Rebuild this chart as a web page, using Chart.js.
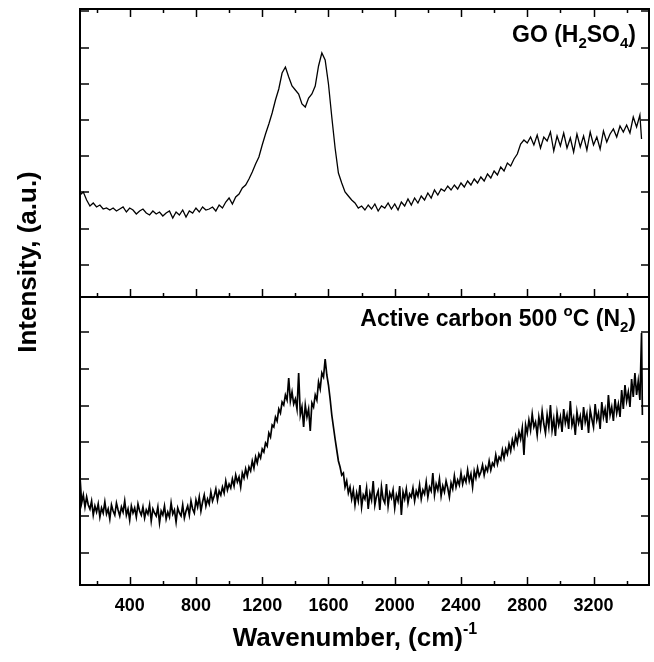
<!DOCTYPE html>
<html><head><meta charset="utf-8">
<script src="https://cdn.jsdelivr.net/npm/chart.js@4.4.1/dist/chart.umd.min.js"></script>
<style>html,body{margin:0;padding:0;background:#fff;} #wrap{width:654px;height:662px;}</style>
</head><body><div id="wrap"><canvas id="c" width="654" height="662"></canvas></div>
<script>
const xTickLabels = [400, 800, 1200, 1600, 2000, 2400, 2800, 3200];
const xMinorTicks = [200, 600, 1000, 1400, 1800, 2200, 2600, 3000, 3400];
const yTicksTop = [32, 68, 105, 141, 177, 213, 249, 286];
const yTicksBottom = [32, 69, 106, 143, 179, 216, 253];

const goWavenumber = [
100,120,140,160,180,200,220,240,260,280,
300,320,340,360,380,400,420,440,460,480,
500,520,540,560,580,600,620,640,660,680,
700,720,740,760,780,800,820,840,860,880,
900,920,940,960,980,1000,1020,1040,1060,1080,
1100,1120,1140,1160,1180,1200,1220,1240,1260,1280,
1300,1320,1340,1360,1380,1400,1420,1440,1460,1480,
1500,1520,1540,1560,1580,1600,1620,1640,1660,1680,
1700,1720,1740,1760,1780,1800,1820,1840,1860,1880,
1900,1920,1940,1960,1980,2000,2020,2040,2060,2080,
2100,2120,2140,2160,2180,2200,2220,2240,2260,2280,
2300,2320,2340,2360,2380,2400,2420,2440,2460,2480,
2500,2520,2540,2560,2580,2600,2620,2640,2660,2680,
2700,2720,2740,2760,2780,2800,2820,2840,2860,2880,
2900,2920,2940,2960,2980,3000,3020,3040,3060,3080,
3100,3120,3140,3160,3180,3200,3220,3240,3260,3280,
3300,3320,3340,3360,3380,3400,3420,3440,3460,3480,
3490];
const goIntensity = [
102,105,97,91,94,90,92,88,89,87,
89,86,88,90,85,89,87,83,86,88,
84,82,86,83,85,81,84,86,79,85,
82,87,80,86,84,89,85,90,87,88,
90,86,92,89,95,99,93,100,103,109,
112,118,125,133,140,152,163,173,184,197,
208,224,230,220,211,207,203,193,190,199,
203,211,231,244,237,213,180,149,124,114,
105,101,97,94,89,91,87,92,88,93,
86,91,89,94,88,93,87,95,91,98,
92,99,94,101,97,104,99,107,102,108,
106,111,107,112,108,114,110,116,112,118,
114,120,116,123,119,126,122,130,126,134,
131,138,143,153,157,154,160,152,162,149,
160,156,165,146,161,151,164,149,159,145,
163,150,161,147,165,152,160,148,166,155,
163,168,160,171,165,172,164,180,170,182,
158];

const acWavenumber = [
100,110,120,130,140,150,160,170,180,190,
200,210,220,230,240,250,260,270,280,290,
300,310,320,330,340,350,360,370,380,390,
400,410,420,430,440,450,460,470,480,490,
500,510,520,530,540,550,560,570,580,590,
600,610,620,630,640,650,660,670,680,690,
700,710,720,730,740,750,760,770,780,790,
800,810,820,830,840,850,860,870,880,890,
900,910,920,930,940,950,960,970,980,990,
1000,1010,1020,1030,1040,1050,1060,1070,1080,1090,
1100,1110,1120,1130,1140,1150,1160,1170,1180,1190,
1200,1210,1220,1230,1240,1250,1260,1270,1280,1290,
1300,1310,1320,1330,1340,1350,1360,1370,1380,1390,
1400,1410,1420,1430,1440,1450,1460,1470,1480,1490,
1500,1510,1520,1530,1540,1550,1560,1570,1580,1590,
1600,1610,1620,1630,1640,1650,1660,1670,1680,1690,
1700,1710,1720,1730,1740,1750,1760,1770,1780,1790,
1800,1810,1820,1830,1840,1850,1860,1870,1880,1890,
1900,1910,1920,1930,1940,1950,1960,1970,1980,1990,
2000,2010,2020,2030,2040,2050,2060,2070,2080,2090,
2100,2110,2120,2130,2140,2150,2160,2170,2180,2190,
2200,2210,2220,2230,2240,2250,2260,2270,2280,2290,
2300,2310,2320,2330,2340,2350,2360,2370,2380,2390,
2400,2410,2420,2430,2440,2450,2460,2470,2480,2490,
2500,2510,2520,2530,2540,2550,2560,2570,2580,2590,
2600,2610,2620,2630,2640,2650,2660,2670,2680,2690,
2700,2710,2720,2730,2740,2750,2760,2770,2780,2790,
2800,2810,2820,2830,2840,2850,2860,2870,2880,2890,
2900,2910,2920,2930,2940,2950,2960,2970,2980,2990,
3000,3010,3020,3030,3040,3050,3060,3070,3080,3090,
3100,3110,3120,3130,3140,3150,3160,3170,3180,3190,
3200,3210,3220,3230,3240,3250,3260,3270,3280,3290,
3300,3310,3320,3330,3340,3350,3360,3370,3380,3390,
3400,3410,3420,3430,3440,3450,3460,3470,3480,3490,
3495];
const acIntensity = [
108,82,90,78,88,80,76,84,70,79,
73,81,68,77,72,83,71,76,66,80,
74,70,82,75,69,78,73,84,70,76,
65,79,72,77,68,81,74,70,78,67,
75,71,80,64,76,72,69,78,62,74,
70,79,66,73,68,82,71,75,63,77,
72,69,80,67,74,79,70,84,76,72,
85,78,88,74,83,90,79,86,81,93,
84,89,96,85,94,90,98,92,104,95,
101,97,106,99,110,103,108,98,112,107,
116,109,118,114,124,117,128,122,131,127,
136,133,142,139,152,148,160,158,168,164,
176,172,183,180,190,185,207,184,193,181,
186,176,212,170,178,158,180,168,176,154,
182,178,190,185,203,196,212,208,226,210,
200,186,170,158,146,135,124,118,110,112,
98,104,92,98,86,95,80,92,84,100,
78,90,86,97,76,92,85,104,80,89,
94,75,98,86,82,101,79,92,87,95,
77,90,84,99,70,93,86,96,82,91,
88,97,84,94,89,100,86,95,91,103,
88,98,94,112,90,101,95,106,89,99,
93,104,97,88,102,96,109,98,105,100,
112,101,108,103,115,104,111,98,114,107,
117,109,113,120,110,118,114,124,115,122,
119,130,121,128,125,135,127,136,131,141,
134,145,138,149,142,153,146,157,130,160,
152,165,155,171,158,163,150,168,157,174,
161,152,170,158,180,155,166,149,172,160,
168,153,176,162,170,156,184,160,167,150,
173,162,169,155,178,163,171,152,175,166,
158,181,165,172,156,183,168,176,162,190,
170,178,164,186,172,181,168,195,176,200,
184,193,178,206,188,212,190,204,185,252,
170];

const FONT = '"Liberation Sans", Arial, Helvetica, sans-serif';

function drawRich(ctx, parts, x, y, align) {
  let total = 0;
  parts.forEach(p => { ctx.font = 'bold ' + p.s + 'px ' + FONT; p.w = ctx.measureText(p.t).width; total += p.w; });
  let cx = align === 'right' ? x - total : (align === 'center' ? x - total / 2 : x);
  ctx.textAlign = 'left';
  ctx.textBaseline = 'alphabetic';
  parts.forEach(p => { ctx.font = 'bold ' + p.s + 'px ' + FONT; ctx.fillText(p.t, cx, y + (p.dy || 0)); cx += p.w; });
}

const framePlugin = {
  id: 'frame',
  afterDatasetsDraw(chart) {
    const ctx = chart.ctx;
    const ca = chart.chartArea;
    const xs = chart.scales.x, yt = chart.scales.yTop, yb = chart.scales.yBot;
    const line = (x1, y1, x2, y2) => { ctx.beginPath(); ctx.moveTo(x1, y1); ctx.lineTo(x2, y2); ctx.stroke(); };
    ctx.save();
    ctx.strokeStyle = '#000';
    ctx.lineWidth = 1.5;
    const xt = (vals, len) => vals.forEach(v => {
      const px = Math.round(xs.getPixelForValue(v)) + 0.5;
      line(px, yt.top, px, yt.top + len);
      line(px, yt.bottom, px, yt.bottom - len);
      line(px, yb.bottom, px, yb.bottom - len);
    });
    xt(xTickLabels, 8);
    xt(xMinorTicks, 4);
    yTicksTop.forEach(v => { const py = yt.getPixelForValue(v); line(ca.left, py, ca.left + 9, py); line(ca.right, py, ca.right - 8, py); });
    yTicksBottom.forEach(v => { const py = yb.getPixelForValue(v); line(ca.left, py, ca.left + 9, py); line(ca.right, py, ca.right - 8, py); });
    ctx.lineWidth = 2;
    ctx.strokeRect(ca.left, ca.top, ca.right - ca.left, ca.bottom - ca.top);
    line(ca.left, yt.bottom, ca.right, yt.bottom);

    ctx.fillStyle = '#000';
    drawRich(ctx, [{t: 'GO (H', s: 23}, {t: '2', s: 15, dy: 6}, {t: 'SO', s: 23}, {t: '4', s: 15, dy: 6}, {t: ')', s: 23}], 636, yt.top + 33, 'right');
    drawRich(ctx, [{t: 'Active carbon 500 ', s: 23}, {t: 'o', s: 15, dy: -10}, {t: 'C (N', s: 23}, {t: '2', s: 15, dy: 6}, {t: ')', s: 23}], 636, yb.top + 29, 'right');
    drawRich(ctx, [{t: 'Wavenumber, (cm)', s: 26}, {t: '-1', s: 16, dy: -12}], 355, 646, 'center');
    ctx.save();
    ctx.translate(36, 262);
    ctx.rotate(-Math.PI / 2);
    ctx.font = 'bold 26px ' + FONT;
    ctx.textAlign = 'center';
    ctx.textBaseline = 'alphabetic';
    ctx.fillText('Intensity, (a.u.)', 0, 0);
    ctx.restore();
    ctx.restore();
  }
};

const hiddenY = (min, max) => ({
  type: 'linear', position: 'left', stack: 'panels', stackWeight: 1, min: min, max: max,
  ticks: {display: false}, grid: {display: false, drawTicks: false}, border: {display: false},
  afterFit: s => { s.width = 0; }
});

new Chart(document.getElementById('c'), {
  type: 'line',
  data: {
    datasets: [
      {label: 'GO (H2SO4)', data: goWavenumber.map((w, i) => ({x: w, y: goIntensity[i]})), yAxisID: 'yTop',
       borderColor: '#000', borderWidth: 1.3, pointRadius: 0, tension: 0, fill: false},
      {label: 'Active carbon 500 °C (N2)', data: acWavenumber.map((w, i) => ({x: w, y: acIntensity[i]})), yAxisID: 'yBot',
       borderColor: '#000', borderWidth: 1.7, pointRadius: 0, tension: 0, fill: false}
    ]
  },
  options: {
    responsive: false,
    animation: false,
    layout: {padding: {left: 80, right: 5, top: 9, bottom: 0}},
    plugins: {legend: {display: false}, tooltip: {enabled: false}},
    scales: {
      x: {
        type: 'linear', position: 'bottom', min: 100, max: 3535,
        grid: {display: false, drawTicks: false}, border: {display: false},
        ticks: {font: {family: FONT, size: 18, weight: 'bold'}, color: '#000', padding: 10, maxRotation: 0, autoSkip: false,
                callback: v => String(v)},
        afterBuildTicks: s => { s.ticks = xTickLabels.map(v => ({value: v})); },
        afterFit: s => { s.height = 77; }
      },
      yBot: hiddenY(0, 288),
      yTop: hiddenY(0, 288)
    }
  },
  plugins: [framePlugin]
});
</script>
</body></html>
